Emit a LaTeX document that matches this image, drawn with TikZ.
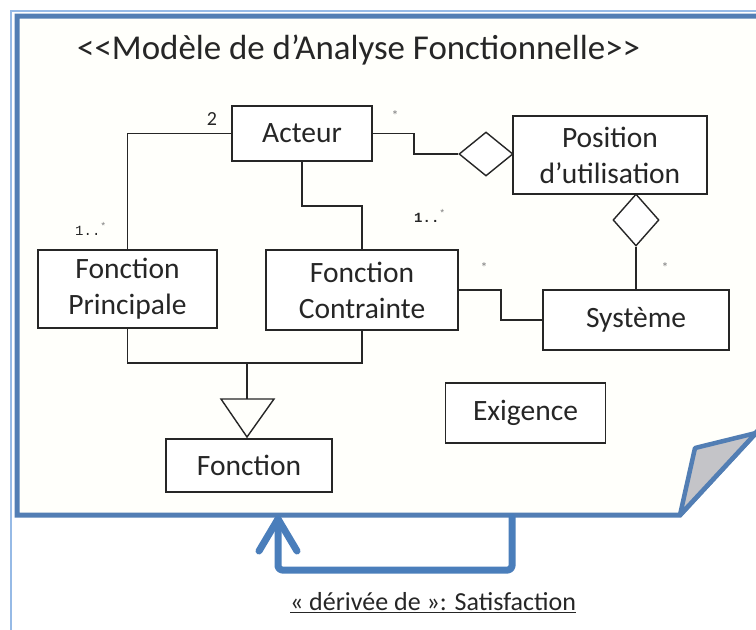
\documentclass[tikz,border=0pt]{standalone}
\usepackage{fontspec}
\setmainfont{Carlito}
\newfontfamily\monofnt{Liberation Mono}
\usetikzlibrary{shapes.geometric}
\definecolor{frameblue}{RGB}{82,126,180}
\definecolor{lightblue}{RGB}{150,186,230}
\definecolor{arrowblue}{RGB}{74,126,187}
\definecolor{ink}{RGB}{38,38,38}
\definecolor{cream}{RGB}{255,255,251}
\definecolor{foldgray}{RGB}{196,196,200}
\begin{document}
\begin{tikzpicture}[x=1pt,y=-1pt,
  box/.style={draw=ink, line width=1.4pt, fill=white, inner sep=0pt, align=center,
              font=\fontsize{29.5}{36}\selectfont, text=ink},
  link/.style={draw=ink, line width=1.4pt},
  diam/.style={diamond, draw=ink, line width=1.4pt, fill=white, inner sep=0pt},
  mult/.style={font=\monofnt\fontsize{14}{16}\selectfont, text=ink, inner sep=0pt},
  star/.style={font=\fontsize{14}{16}\selectfont, text=gray, inner sep=0pt},
  thickblue/.style={draw=arrowblue, line width=7pt, line join=round, line cap=round}
]
\useasboundingbox (0,0) rectangle (756,630);
\fill[white] (0,0) rectangle (756,630);
\begin{scope}
  \clip (0,0) rectangle (756,630);
  % outer thin frame
  \draw[lightblue, line width=2pt] (11,640) -- (11,11) -- (770,11);
  % note shape
  \filldraw[fill=cream, draw=frameblue, line width=5pt, line join=miter]
    (17,16) -- (790,16) -- (790,396) -- (680,515) -- (17,515) -- cycle;
  % folded corner
  \filldraw[fill=foldgray, draw=frameblue, line width=4.5pt, line join=round]
    (680,515) -- (695,448) -- (756,433) -- cycle;
\end{scope}

% title
\node[anchor=west, inner sep=0pt, font=\fontsize{34.9}{40}\selectfont, text=ink] (title)
  at (77,50) {<{}<Modèle de d'Analyse Fonctionnelle>{}>};

% classes
\node[box, minimum width=140pt, minimum height=55pt] (A) at (302,133.5) {Acteur};
\node[box, minimum width=194pt, minimum height=78pt] (P) at (610,155) {Position\\d'utilisation};
\node[box, minimum width=179pt, minimum height=78pt] (FP) at (127.5,289) {Fonction\\Principale};
\node[box, minimum width=192pt, minimum height=80pt] (FC) at (362,290) {Fonction\\Contrainte};
\node[box, minimum width=186pt, minimum height=60pt] (S) at (636,320) {Système};
\node[box, minimum width=160pt, minimum height=60pt] (E) at (525.5,413) {Exigence};
\node[box, minimum width=166pt, minimum height=53pt] (F) at (249,465.5) {Fonction};

% aggregation diamonds
\node[diam, minimum width=54pt, minimum height=44pt] (d1) at (486,154) {};
\node[diam, minimum width=46pt, minimum height=52pt] (d2) at (636,220) {};

% connectors
\draw[link] (A.west) -| (FP.north);
\coordinate (k1) at (302,206);
\draw[link] (A.south) -- (k1) -| (FC.north);
\coordinate (k2) at (414,133.5);
\draw[link] (A.east) -- (k2) |- (d1.west);
\draw[link] (d2.south) -- (S.north);
\coordinate (k3) at (501,290);
\draw[link] (FC.east) -- (k3) |- (S.west);

% generalization
\coordinate (g) at (247,363);
\coordinate (t1) at (221,399);
\coordinate (t2) at (274,399);
\coordinate (t3) at (247,437);
\coordinate (tm) at (247,399);
\draw[link] (FP.south) |- (g) -| (FC.south);
\draw[link] (g) -- (tm);
\draw[link, line join=miter] (t1) -- (t2) -- (t3) -- cycle;

% multiplicities
\node[font=\fontsize{20}{22}\selectfont, text=ink, inner sep=0pt] (m1) at (212,119) {2};
\node[mult] (m2) at (91,229) {1..\textsuperscript{\textcolor{gray}{*}}};
\node[mult] (m3) at (430,216) {\textbf{1..}\textsuperscript{\textcolor{gray}{*}}};
\node[star] (m4) at (395,116) {*};
\node[star] (m5) at (484,268) {*};
\node[star] (m6) at (665,268) {*};

% derivation arrow
\coordinate (a0) at (512,517);
\coordinate (a1) at (512,570);
\coordinate (a2) at (278,570);
\coordinate (a3) at (278,519);
\coordinate (h1) at (259,551);
\coordinate (h2) at (297,551);
\draw[thickblue, rounded corners=4pt] (a0) -- (a1) -- (a2) -- (a3);
\draw[thickblue] (h1) -- (a3) -- (h2);

\node[font=\fontsize{26}{30}\selectfont, text=ink, inner sep=0pt] (lbl) at (433,603)
  {\underline{« dérivée de »: Satisfaction}};
\end{tikzpicture}
\end{document}
